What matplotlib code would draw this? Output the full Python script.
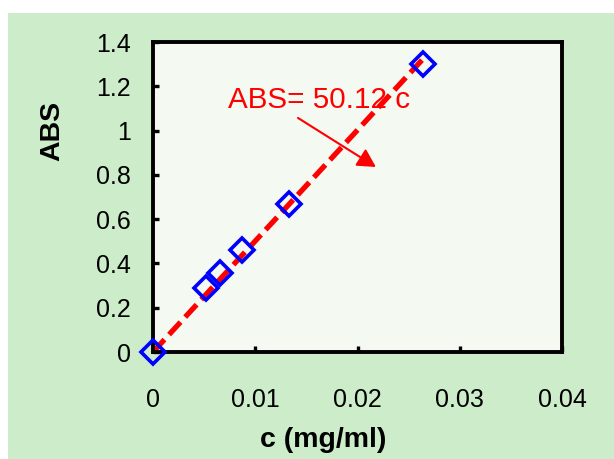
import matplotlib
matplotlib.use("Agg")
import matplotlib.pyplot as plt
from matplotlib.patches import Rectangle

plt.rcParams['font.family'] = ['Liberation Sans', 'DejaVu Sans']

# data
conc = [0.0, 0.0052, 0.0066, 0.0087, 0.0133, 0.0264]
absorb = [0.0, 0.29, 0.357, 0.46, 0.668, 1.30]
slope = 50.12
fit_x = [0.0, 0.0264]
fit_y = [slope * v for v in fit_x]
xticks = [0, 0.01, 0.02, 0.03, 0.04]
xtick_labels = ["0", "0.01", "0.02", "0.03", "0.04"]
yticks = [0, 0.2, 0.4, 0.6, 0.8, 1.0, 1.2, 1.4]
ytick_labels = ["0", "0.2", "0.4", "0.6", "0.8", "1", "1.2", "1.4"]
eq_text = "ABS= 50.12 c"

W, H = 614, 459
fig = plt.figure(figsize=(W / 100, H / 100), dpi=100)
fig.patch.set_facecolor("white")
bg = Rectangle((8 / W, 0), 1 - 8 / W, 1 - 13 / H, transform=fig.transFigure,
               facecolor="#cdecca", edgecolor="none", zorder=-10)
fig.patches.append(bg)

ax = fig.add_axes([153 / W, 1 - 352 / H, (562 - 153) / W, (352 - 42) / H])
ax.set_zorder(5)
ax.set_facecolor("#f4faf2")

ax.plot(fit_x, fit_y, color="red", lw=3.8, dashes=(3.2, 1.3), zorder=2, clip_on=False)
ax.plot(conc, absorb, linestyle="none", marker="D", markersize=12, markerfacecolor="none",
        markeredgecolor="#0000ff", markeredgewidth=2.6, zorder=3, clip_on=False)

ax.set_xlim(0, 0.04)
ax.set_ylim(0, 1.4)
ax.set_xticks(xticks)
ax.set_xticklabels(xtick_labels)
ax.set_yticks(yticks)
ax.set_yticklabels(ytick_labels)
ax.tick_params(axis="x", direction="in", length=4.5, width=2.4, pad=26, labelsize=18)
ax.tick_params(axis="y", direction="in", length=4.5, width=2.4, pad=16, labelsize=18)
for s in ax.spines.values():
    s.set_linewidth(2.8)
    s.set_color("black")

# equation annotation
ax.text(0.00733, 1.138, eq_text, color="red", fontsize=21.3, ha="left", va="center")
ax.annotate("", xy=(0.0218, 0.8356), xytext=(0.01418, 1.057),
            arrowprops=dict(arrowstyle="-|>,head_length=0.55,head_width=0.3",
                            color="red", lw=1.5, mutation_scale=20, shrinkA=0, shrinkB=0))

fig.text(323 / W, 1 - 440 / H, "c (mg/ml)", fontsize=20.5, fontweight="bold",
         ha="center", va="center", zorder=6)
fig.text(52.5 / W, 1 - 131 / H, "ABS", fontsize=20.5, fontweight="bold",
         ha="center", va="center", rotation=90, zorder=6)

fig.savefig("out.png", dpi=100, facecolor=fig.get_facecolor())
